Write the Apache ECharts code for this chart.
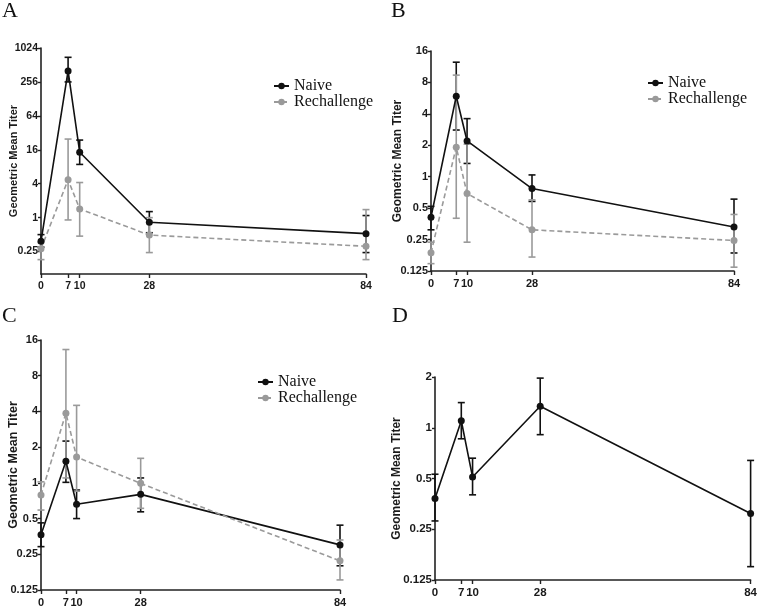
<!DOCTYPE html>
<html>
<head>
<meta charset="utf-8">
<script src="https://cdn.jsdelivr.net/npm/echarts@6/dist/echarts.min.js"></script>
<style>
  html, body { margin: 0; padding: 0; background: #fff; }
  #chart { width: 760px; height: 608px; }
</style>
</head>
<body>
<div id="chart"></div>
<script>
// sampling days (x axis)
const days = [0, 7, 10, 28, 84];
const seriesNames = ["Naive", "Rechallenge"];

// panel A
const naiveA = [0.38, 401, 14.5, 0.83, 0.52];
const naiveA_lo = [0.3, 256, 8.8, 0.54, 0.24];
const naiveA_hi = [0.5, 700, 23.8, 1.28, 1.09];
const rechA = [0.28, 4.7, 1.43, 0.49, 0.31];
const rechA_lo = [0.18, 0.91, 0.47, 0.24, 0.18];
const rechA_hi = [0.36, 24.8, 4.2, 1.0, 1.39];
const ticksA = [0.25, 1, 4, 16, 64, 256, 1024];

// panel B
const naiveB = [0.41, 5.9, 2.2, 0.77, 0.33];
const naiveB_lo = [0.31, 2.8, 1.34, 0.58, 0.186];
const naiveB_hi = [0.52, 12.5, 3.6, 1.04, 0.61];
const rechB = [0.187, 1.92, 0.69, 0.31, 0.245];
const rechB_lo = [0.147, 0.4, 0.236, 0.17, 0.136];
const rechB_hi = [0.236, 9.4, 2.05, 0.6, 0.435];
const ticksB = [0.125, 0.25, 0.5, 1, 2, 4, 8, 16];

// panel C
const naiveC = [0.366, 1.52, 0.66, 0.8, 0.3];
const naiveC_lo = [0.29, 1.01, 0.5, 0.57, 0.2];
const naiveC_hi = [0.46, 2.25, 0.87, 1.1, 0.44];
const rechC = [0.79, 3.87, 1.65, 0.99, 0.22];
const rechC_lo = [0.59, 1.1, 0.85, 0.61, 0.152];
const rechC_hi = [1.02, 13.3, 4.5, 1.61, 0.33];
const ticksC = [0.125, 0.25, 0.5, 1, 2, 4, 8, 16];

// panel D (naive only)
const naiveD = [0.38, 1.1, 0.51, 1.34, 0.31];
const naiveD_lo = [0.28, 0.86, 0.4, 0.91, 0.15];
const naiveD_hi = [0.53, 1.41, 0.66, 1.97, 0.64];
const ticksD = [0.125, 0.25, 0.5, 1, 2];

const dayTicks = [0, 7, 10, 28, 84];

const BLACK = "#111111";
const GREY = "#9a9a9a";
const SANS = "Liberation Sans, Arial, sans-serif";
const SERIF = "Liberation Serif, Times New Roman, serif";

const panels = [
  { label: "A", grid: { left: 41, top: 48, width: 325, height: 226 }, min: 0.1, max: 1024, ticks: ticksA,
    nameGap: 22, nameSize: 11, tickSize: 10.5, legend: { left: 273, top: 78 },
    lines: [[naiveA, naiveA_lo, naiveA_hi], [rechA, rechA_lo, rechA_hi]], title: { left: 2, top: 0 } },
  { label: "B", grid: { left: 431, top: 51, width: 303, height: 220 }, min: 0.125, max: 16, ticks: ticksB,
    nameGap: 27, nameSize: 12, tickSize: 11, legend: { left: 647, top: 75 },
    lines: [[naiveB, naiveB_lo, naiveB_hi], [rechB, rechB_lo, rechB_hi]], title: { left: 391, top: 0 } },
  { label: "C", grid: { left: 41, top: 340, width: 299, height: 250 }, min: 0.125, max: 16, ticks: ticksC,
    nameGap: 21, nameSize: 12.5, tickSize: 11, legend: { left: 257, top: 374 },
    lines: [[naiveC, naiveC_lo, naiveC_hi], [rechC, rechC_lo, rechC_hi]], title: { left: 2, top: 305 } },
  { label: "D", grid: { left: 435, top: 377, width: 318, height: 203 }, min: 0.125, max: 2, ticks: ticksD,
    nameGap: 32, nameSize: 12, tickSize: 11.5, legend: null,
    lines: [[naiveD, naiveD_lo, naiveD_hi]], title: { left: 392, top: 305 } }
];

const grids = [], xAxes = [], yAxes = [], series = [], titles = [], legends = [];

function errorBars(idx, name, color, mean, lo, hi) {
  return {
    type: "custom",
    name: name + " SD",
    xAxisIndex: idx,
    yAxisIndex: idx,
    z: 1,
    silent: true,
    data: days.map((d, k) => [d, lo[k], hi[k]]),
    renderItem: function (params, api) {
      const x = api.value(0);
      const p1 = api.coord([x, api.value(1)]);
      const p2 = api.coord([x, api.value(2)]);
      const w = 3.5;
      const st = { stroke: color, lineWidth: 1.6 };
      return {
        type: "group",
        children: [
          { type: "line", shape: { x1: p1[0], y1: p1[1], x2: p2[0], y2: p2[1] }, style: st },
          { type: "line", shape: { x1: p1[0] - w, y1: p1[1], x2: p1[0] + w, y2: p1[1] }, style: st },
          { type: "line", shape: { x1: p2[0] - w, y1: p2[1], x2: p2[0] + w, y2: p2[1] }, style: st }
        ]
      };
    }
  };
}

panels.forEach((p, i) => {
  grids.push(Object.assign({ containLabel: false }, p.grid));
  titles.push({
    text: p.label, left: p.title.left, top: p.title.top, padding: 0,
    textStyle: { fontFamily: SERIF, fontSize: 22, fontWeight: "normal", color: "#111" }
  });
  xAxes.push({
    type: "value", gridIndex: i, min: 0, max: 84,
    axisLine: { show: true, lineStyle: { color: "#222", width: 1.6 } },
    axisTick: { show: true, length: 4, customValues: dayTicks, lineStyle: { color: "#222", width: 1.4 } },
    axisLabel: { customValues: dayTicks, margin: 7, fontFamily: SANS, fontWeight: "bold", fontSize: p.tickSize, color: "#1a1a1a" },
    splitLine: { show: false }
  });
  yAxes.push({
    type: "log", logBase: 2, gridIndex: i, min: p.min, max: p.max,
    name: "Geometric Mean Titer", nameLocation: "middle", nameGap: p.nameGap, nameMoveOverlap: false,
    nameTextStyle: { fontFamily: SANS, fontWeight: "bold", fontSize: p.nameSize, color: "#1a1a1a" },
    axisLine: { show: true, lineStyle: { color: "#222", width: 1.6 } },
    axisTick: { show: true, length: 3, customValues: p.ticks, lineStyle: { color: "#222", width: 1.4 } },
    axisLabel: {
      customValues: p.ticks, margin: 3, fontFamily: SANS, fontWeight: "bold", fontSize: p.tickSize, color: "#1a1a1a",
      formatter: v => String(v)
    },
    splitLine: { show: false }
  });
  p.lines.forEach((ln, j) => {
    const color = j === 0 ? BLACK : GREY;
    series.push(errorBars(i, seriesNames[j], color, ln[0], ln[1], ln[2]));
    series.push({
      type: "line",
      name: seriesNames[j],
      xAxisIndex: i,
      yAxisIndex: i,
      z: 3,
      data: days.map((d, k) => [d, ln[0][k]]),
      symbol: "circle",
      symbolSize: 7,
      showSymbol: true,
      itemStyle: { color: color },
      lineStyle: { color: color, width: 1.6, type: j === 0 ? "solid" : [5, 3] },
      animation: false
    });
  });
  if (p.legend) {
    legends.push({
      data: seriesNames,
      left: p.legend.left,
      top: p.legend.top,
      orient: "vertical",
      itemGap: 0,
      itemWidth: 15,
      itemHeight: 8,
      padding: 0,
      textStyle: { fontFamily: SERIF, fontSize: 16, color: "#111", lineHeight: 16 }
    });
  }
});

const chart = echarts.init(document.getElementById("chart"));
chart.setOption({
  animation: false,
  backgroundColor: "#fff",
  title: titles,
  legend: legends,
  grid: grids,
  xAxis: xAxes,
  yAxis: yAxes,
  series: series
});
</script>
</body>
</html>
